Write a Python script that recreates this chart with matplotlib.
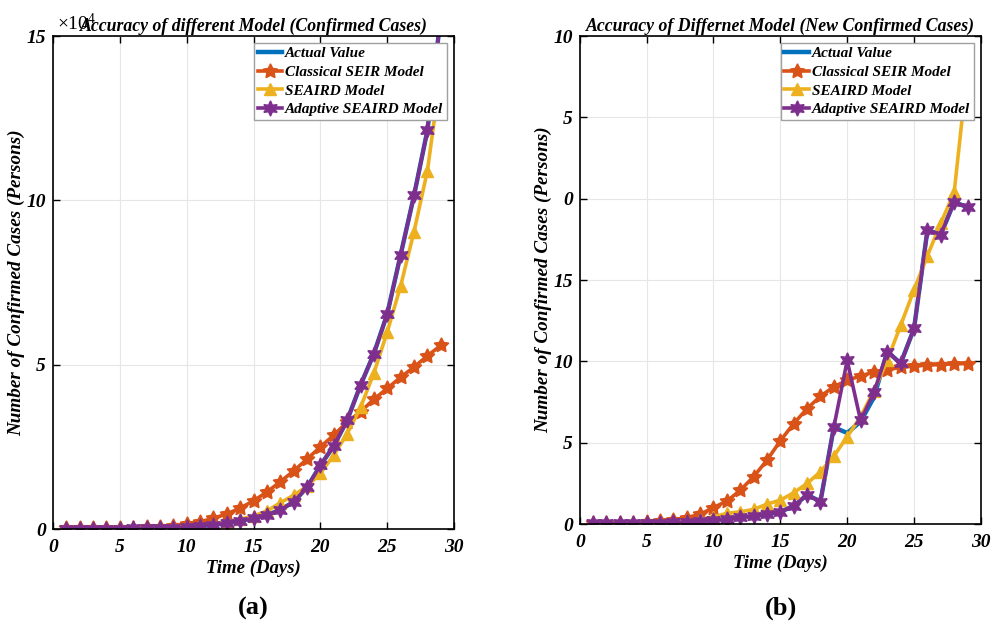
import matplotlib.pyplot as plt
import numpy as np

plt.rcParams["font.family"] = ["Liberation Serif", "DejaVu Serif"]
plt.rcParams["mathtext.fontset"] = "custom"
plt.rcParams["mathtext.rm"] = "Liberation Serif"
plt.rcParams["mathtext.it"] = "Liberation Serif:italic"

days = np.arange(1, 30)

# cumulative confirmed cases (x 10^4)
cum_actual = [0.01, 0.01, 0.01, 0.01, 0.01, 0.02, 0.02, 0.03, 0.04, 0.06,
              0.09, 0.13, 0.18, 0.25, 0.33, 0.43, 0.58, 0.83, 1.27, 1.94,
              2.53, 3.31, 4.38, 5.34, 6.55, 8.35, 10.15, 12.13, 15.6]
cum_seir = [0.02, 0.02, 0.02, 0.03, 0.03, 0.04, 0.05, 0.06, 0.10, 0.15,
            0.22, 0.33, 0.46, 0.64, 0.86, 1.13, 1.44, 1.77, 2.13, 2.50,
            2.86, 3.26, 3.57, 3.95, 4.28, 4.62, 4.93, 5.27, 5.59]
cum_seaird = [0.01, 0.01, 0.01, 0.01, 0.02, 0.02, 0.03, 0.04, 0.05, 0.08,
              0.11, 0.16, 0.22, 0.30, 0.40, 0.55, 0.80, 1.03, 1.30, 1.70,
              2.25, 2.90, 3.70, 4.75, 6.00, 7.40, 9.05, 10.90, 13.9]
cum_adaptive = [0.01, 0.01, 0.01, 0.01, 0.01, 0.02, 0.02, 0.03, 0.04, 0.06,
                0.09, 0.13, 0.18, 0.25, 0.33, 0.43, 0.58, 0.83, 1.27, 1.94,
                2.53, 3.31, 4.38, 5.34, 6.55, 8.35, 10.15, 12.13, 15.6]

# new confirmed cases per day
new_actual = [0.05, 0.05, 0.05, 0.06, 0.07, 0.08, 0.10, 0.13, 0.17, 0.25,
              0.30, 0.41, 0.49, 0.61, 0.76, 1.11, 1.80, 1.39, 5.96, 5.60,
              6.30, 7.80, 10.60, 9.88, 12.03, 18.07, 17.80, 19.80, 19.47]
new_seir = [0.05, 0.06, 0.07, 0.09, 0.12, 0.17, 0.27, 0.40, 0.60, 1.02,
            1.41, 2.08, 2.91, 3.93, 5.12, 6.18, 7.10, 7.86, 8.44, 8.85,
            9.10, 9.36, 9.50, 9.63, 9.71, 9.77, 9.81, 9.85, 9.87]
new_seaird = [0.05, 0.05, 0.06, 0.07, 0.08, 0.11, 0.15, 0.21, 0.30, 0.45,
              0.66, 0.76, 0.90, 1.23, 1.47, 1.93, 2.50, 3.22, 4.18, 5.37,
              6.60, 8.20, 10.07, 12.22, 14.40, 16.50, 18.50, 20.40, 28.0]
new_adaptive = [0.05, 0.05, 0.05, 0.06, 0.07, 0.08, 0.10, 0.13, 0.17, 0.25,
                0.30, 0.41, 0.49, 0.61, 0.76, 1.11, 1.80, 1.39, 5.96, 10.06,
                6.37, 8.09, 10.60, 9.88, 12.03, 18.07, 17.80, 19.80, 19.47]

labels = ["Actual Value", "Classical SEIR Model", "SEAIRD Model",
          "Adaptive SEAIRD Model"]
colors = ["#0072BD", "#D95319", "#EDB120", "#7E2F8E"]
markers = [None, (5, 1, 0), "^", (6, 1, 0)]
msizes = [0, 11, 8, 11]
widths = [3.2, 2.6, 2.6, 2.6]

left_yticks = [0, 5, 10, 15]
right_yticks = [0, 5, 10, 15, 20, 25, 30]
right_yticklabels = ["0", "5", "10", "15", "0", "5", "10"]

font = dict(fontweight="bold", fontstyle="italic")

fig = plt.figure(figsize=(10.03, 6.21), dpi=100)
ax1 = fig.add_axes([0.0528, 0.148, 0.400, 0.794])
ax2 = fig.add_axes([0.578, 0.156, 0.400, 0.786])


def draw_panel(ax, series, ylim, yticks, yticklabels, title):
    for vals, lab, c, m, ms, lw in zip(series, labels, colors, markers,
                                       msizes, widths):
        ax.plot(days, vals, color=c, marker=m, markersize=ms, lw=lw,
                label=lab)
    ax.set_xlim(0, 30)
    ax.set_ylim(*ylim)
    ax.set_xticks([0, 5, 10, 15, 20, 25, 30])
    ax.set_yticks(yticks)
    ax.set_yticklabels(yticklabels)
    ax.grid(True, color="#e6e6e6", lw=0.8)
    ax.set_axisbelow(True)
    ax.tick_params(direction="in", top=True, right=True, length=5,
                   labelsize=14, width=1)
    ax.tick_params(axis="x", pad=7)
    ax.tick_params(axis="y", pad=5)
    for lbl in ax.get_xticklabels() + ax.get_yticklabels():
        lbl.set_fontweight("bold")
        lbl.set_fontstyle("italic")
    for sp in ax.spines.values():
        sp.set_linewidth(1.2)
    ax.set_title(title, fontsize=12.8, pad=4, **font)
    ax.set_xlabel("Time (Days)", fontsize=13.5, labelpad=3, **font)
    ax.set_ylabel("Number of Confirmed Cases (Persons)", fontsize=13.8,
                  **font)
    ax.yaxis.set_label_coords(-0.069, 0.5)
    leg = ax.legend(loc="upper right", handlelength=1.6,
                    handletextpad=0.2, borderaxespad=0.45, borderpad=0.25,
                    labelspacing=0.32, fancybox=False, framealpha=1,
                    edgecolor="#a0a0a0",
                    prop=dict(weight="bold", style="italic", size=11))
    leg.get_frame().set_linewidth(1.0)
    leg.set_zorder(10)


draw_panel(ax1, [cum_actual, cum_seir, cum_seaird, cum_adaptive], (0, 15),
           left_yticks, [str(v) for v in left_yticks],
           "Accuracy of different Model (Confirmed Cases)")
draw_panel(ax2, [new_actual, new_seir, new_seaird, new_adaptive], (0, 30),
           right_yticks, right_yticklabels,
           "Accuracy of Differnet Model (New Confirmed Cases)")

# exponent marker for the cumulative panel
ax1.text(0.01, 1.003, r"$\times10^{4}$", transform=ax1.transAxes,
         fontsize=14, ha="left", va="bottom", zorder=0)

fig.text(0.252, 0.01, "(a)", fontsize=19, fontweight="bold", ha="center")
fig.text(0.779, 0.01, "(b)", fontsize=19, fontweight="bold", ha="center")

fig.savefig("out.png", dpi=100)
